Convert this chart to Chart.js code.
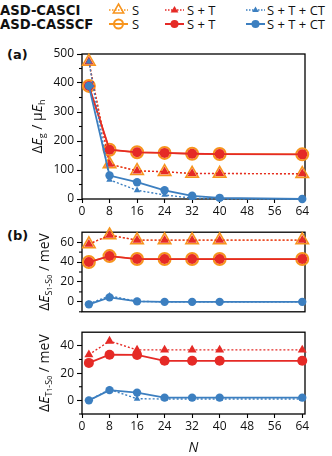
<!DOCTYPE html>
<html><head><meta charset="utf-8">
<script src="https://cdn.jsdelivr.net/npm/chart.js@4/dist/chart.umd.min.js"></script>
<style>
body{margin:0;background:#fff;width:332px;height:456px;overflow:hidden;position:relative;font-family:'Open Sans',sans-serif;color:#111}
canvas{position:absolute;left:0}
.pl{position:absolute;font-family:'DejaVu Sans',sans-serif;font-weight:bold;font-size:13px;line-height:14px}
</style></head><body>
<svg width="332" height="34" style="position:absolute;left:0;top:0" xmlns="http://www.w3.org/2000/svg">
  <text x="0" y="15" font-family="DejaVu Sans" font-weight="bold" font-size="13.2" fill="#111">ASD-CASCI</text>
  <text x="0" y="29" font-family="DejaVu Sans" font-weight="bold" font-size="13.2" fill="#111">ASD-CASSCF</text>
  <line x1="109" y1="10" x2="128" y2="10" stroke="#F7941D" stroke-width="1.4" stroke-dasharray="1.5,1.5"/>
  <polygon points="118.5,4 123.7,13 113.3,13" fill="none" stroke="#F7941D" stroke-width="1.5"/>
  <text x="132" y="15" font-size="13" fill="#111">S</text>
  <line x1="165" y1="10" x2="184" y2="10" stroke="#E52A26" stroke-width="1.4" stroke-dasharray="1.5,1.5"/>
  <polygon points="174.5,6 178.4,12.5 170.6,12.5" fill="#E52A26"/>
  <text x="187" y="15" font-size="13" fill="#111">S + T</text>
  <line x1="246" y1="10" x2="265" y2="10" stroke="#3C7FC0" stroke-width="1.4" stroke-dasharray="1.5,1.5"/>
  <polygon points="255.5,6.5 258.8,12 252.2,12" fill="#3C7FC0"/>
  <text x="267" y="15" font-size="13" fill="#111">S + T + CT</text>
  <line x1="109" y1="24" x2="128" y2="24" stroke="#F7941D" stroke-width="2"/>
  <circle cx="118.5" cy="24" r="4.5" fill="none" stroke="#F7941D" stroke-width="2"/>
  <text x="132" y="29" font-size="13" fill="#111">S</text>
  <line x1="165" y1="24" x2="184" y2="24" stroke="#E52A26" stroke-width="2"/>
  <circle cx="174.5" cy="24" r="4" fill="#E52A26"/>
  <text x="187" y="29" font-size="13" fill="#111">S + T</text>
  <line x1="246" y1="24" x2="265" y2="24" stroke="#3C7FC0" stroke-width="2"/>
  <circle cx="255.5" cy="24" r="4" fill="#3C7FC0"/>
  <text x="267" y="29" font-size="13" fill="#111">S + T + CT</text>
</svg>
<div class="pl" style="left:7px;top:48px">(a)</div>
<div class="pl" style="left:7px;top:229px">(b)</div>
<canvas id="ca" width="332" height="180" style="top:40px"></canvas>
<canvas id="cb" width="332" height="100" style="top:222px"></canvas>
<canvas id="cc" width="332" height="134" style="top:322px"></canvas>
<script>
// ---- data ----
const N = [2, 8, 16, 24, 32, 40, 64];
const xTicks = [0, 8, 16, 24, 32, 40, 48, 56, 64];
// (a) ΔEg / μEh
const gapCasciS    = [474, 120, 97, 94, 88, 88, 87];
const gapCasciST   = [474, 120, 97, 94, 88, 88, 87];
const gapCasciSTCT = [474, 66, 30, 14, 3, 0, 0];
const gapCasscfS    = [390, 170, 161, 159, 156, 155, 154];
const gapCasscfST   = [390, 170, 161, 159, 156, 155, 154];
const gapCasscfSTCT = [390, 81, 58, 30, 11, 4, 0];
const gapTicks = [0, 100, 200, 300, 400, 500];
// (b) ΔE S1-S0 / meV
const s1CasciS    = [58, 67, 62, 62, 62, 62, 62];
const s1CasciST   = [58, 67, 62, 62, 62, 62, 62];
const s1CasciSTCT = [-2, 6, 0.5, 0, 0, 0, 0];
const s1CasscfS    = [40, 46, 43, 43, 43, 43, 43];
const s1CasscfST   = [40, 46, 43, 43, 43, 43, 43];
const s1CasscfSTCT = [-2.5, 4.5, 0.5, 0, 0, 0, 0];
const s1Ticks = [0, 20, 40, 60];
// (c) ΔE T1-S0 / meV
const t1CasciST   = [33.5, 43.5, 37, 37, 37, 37, 37];
const t1CasciSTCT = [0, 8, 1.2, 1, 1, 1, 1];
const t1CasscfST   = [27.5, 33.5, 33.3, 29, 29, 29, 29];
const t1CasscfSTCT = [0, 7.5, 5.7, 2, 2, 2, 2];
const t1Ticks = [0, 20, 40];

const ORANGE = '#F7941D', RED = '#E52A26', BLUE = '#3C7FC0';
const STY = {
  casciS:    {pointStyle:'triangle', pointRadius:7.2,pointBackgroundColor:'rgba(0,0,0,0)', pointBorderColor:ORANGE, pointBorderWidth:1.6, borderColor:ORANGE, borderWidth:1.2, borderDash:[2,2], order:2},
  casciST:   {pointStyle:'triangle', pointRadius:5.2,pointBackgroundColor:RED, pointBorderColor:RED, pointBorderWidth:0, borderColor:RED, borderWidth:1.4, borderDash:[2,2], order:1},
  casciSTCT: {pointStyle:'triangle', pointRadius:3.8,pointBackgroundColor:BLUE, pointBorderColor:BLUE, pointBorderWidth:0, borderColor:BLUE, borderWidth:1.4, borderDash:[2,2], order:0},
  casscfS:   {pointStyle:'circle', pointRadius:6,  pointBackgroundColor:'rgba(0,0,0,0)', pointBorderColor:ORANGE, pointBorderWidth:2, borderColor:ORANGE, borderWidth:1.5, order:2},
  casscfST:  {pointStyle:'circle', pointRadius:5,  pointBackgroundColor:RED, pointBorderColor:RED, pointBorderWidth:0, borderColor:RED, borderWidth:1.8, order:1},
  casscfSTCT:{pointStyle:'circle', pointRadius:4.2,pointBackgroundColor:BLUE, pointBorderColor:BLUE, pointBorderWidth:0, borderColor:BLUE, borderWidth:1.8, order:0}
};
function ds(arr, key){
  return Object.assign({data: N.map((x,i)=>({x:x, y:arr[i]})), clip:false, tension:0, fill:false, pointHoverRadius:0}, STY[key]);
}

const frame = {
  id:'frame',
  beforeDatasetsDraw(c){
    const o = c.options.plugins.frame, a = c.chartArea, ctx = c.ctx, ys = c.scales.y;
    ctx.save();
    ctx.strokeStyle = '#000'; ctx.lineWidth = 1.3;
    ctx.strokeRect(a.left, a.top, a.right-a.left, a.bottom-a.top);
    ctx.lineWidth = 1.1;
    (o.minor||[]).forEach(v=>{const p=ys.getPixelForValue(v); ctx.beginPath(); ctx.moveTo(a.left-3,p); ctx.lineTo(a.left,p); ctx.stroke();});
    ctx.restore();
  },
  afterDraw(c){
    const o = c.options.plugins.frame, a = c.chartArea, ctx = c.ctx;
    const parts = o.title; if(!parts) return;
    const cy = (a.top+a.bottom)/2;
    ctx.save();
    ctx.translate(o.tx, cy + (o.dy||0)); ctx.rotate(-Math.PI/2);
    ctx.fillStyle = '#111'; ctx.textBaseline='alphabetic';
    const fonts = p => (p.it?'italic ':'') + (p.sub===2?'7px':p.sub===1?'9px':'14px') + " 'Open Sans'";
    let w = 0; parts.forEach(p=>{ctx.font=fonts(p); w+=ctx.measureText(p.t).width;});
    let x = -w/2;
    parts.forEach(p=>{ctx.font=fonts(p); const off = p.sub===2?7.5:p.sub===1?7.5:5; ctx.fillText(p.t, x, off); x+=ctx.measureText(p.t).width;});
    ctx.restore();
  }
};

const TICKFONT = {family:"'Open Sans'", size:12};
function makeChart(id, datasets, yMin, yMax, yTicks, minor, title, tx, xOpts, layout){
  return new Chart(document.getElementById(id), {
    type:'line',
    data:{datasets},
    plugins:[frame],
    options:{
      responsive:false, animation:false, devicePixelRatio:1,
      layout:{padding:layout},
      plugins:{legend:{display:false}, tooltip:{enabled:false}, frame:{minor, title, tx}},
      scales:{
        x: Object.assign({type:'linear', min:0, max:64.8,
          afterBuildTicks(s){ s.ticks = xTicks.map(v=>({value:v})); },
          grid:{display:true, drawOnChartArea:false, drawTicks:true, tickLength:4, color:'#000', tickWidth:1.1},
          border:{display:false},
          ticks:{font:TICKFONT, color:'#111', padding:1, maxRotation:0, autoSkip:false}}, xOpts),
        y:{type:'linear', min:yMin, max:yMax,
          afterBuildTicks(s){ s.ticks = yTicks.map(v=>({value:v})); },
          afterFit(s){ s.width = 82; },
          grid:{display:true, drawOnChartArea:false, drawTicks:true, tickLength:5, color:'#000', tickWidth:1.1},
          border:{display:false},
          ticks:{font:TICKFONT, color:'#111', padding:3, autoSkip:false}}
      }
    }
  });
}

makeChart('ca', [
  ds(gapCasciST,'casciST'), ds(gapCasscfST,'casscfST'),
  ds(gapCasciS,'casciS'), ds(gapCasscfS,'casscfS'),
  ds(gapCasciSTCT,'casciSTCT'), ds(gapCasscfSTCT,'casscfSTCT')
], 0, 500, gapTicks, [50,150,250,350,450],
  [{t:'Δ'},{t:'E',it:1},{t:'g',sub:1},{t:' / μ'},{t:'E',it:1},{t:'h',sub:1}], 37,
  {afterFit(s){ s.height = 21; }}, {top:14, right:27, left:0, bottom:0});

makeChart('cb', [
  ds(s1CasciST,'casciST'), ds(s1CasscfST,'casscfST'),
  ds(s1CasciS,'casciS'), ds(s1CasscfS,'casscfS'),
  ds(s1CasciSTCT,'casciSTCT'), ds(s1CasscfSTCT,'casscfSTCT')
], -10, 70, s1Ticks, [-10,10,30,50],
  [{t:'Δ'},{t:'E',it:1},{t:'S',sub:1},{t:'1',sub:2},{t:'-',sub:1},{t:'S',sub:1},{t:'0',sub:2},{t:' / meV'}], 44,
  {display:false}, {top:10, right:27, left:0, bottom:7});

makeChart('cc', [
  ds(t1CasciST,'casciST'), ds(t1CasscfST,'casscfST'),
  ds(t1CasciSTCT,'casciSTCT'), ds(t1CasscfSTCT,'casscfSTCT')
], -10, 50, t1Ticks, [-10,10,30],
  [{t:'Δ'},{t:'E',it:1},{t:'T',sub:1},{t:'1',sub:2},{t:'-',sub:1},{t:'S',sub:1},{t:'0',sub:2},{t:' / meV'}], 44,
  {afterFit(s){ s.height = 42; }, title:{display:true, text:'N', font:{family:"'Open Sans'", size:14, style:'italic'}, color:'#111', padding:{top:2,bottom:0}}},
  {top:10, right:27, left:0, bottom:0});
</script>
</body></html>
